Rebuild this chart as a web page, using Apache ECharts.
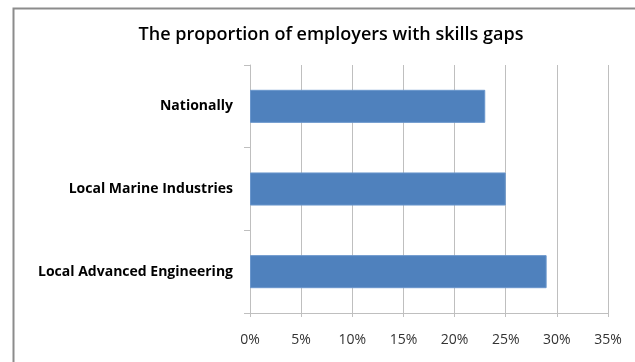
<!DOCTYPE html>
<html><head><meta charset="utf-8">
<script src="https://cdn.jsdelivr.net/npm/echarts@6/dist/echarts.min.js"></script>
<style>html,body{margin:0;padding:0;background:#fff}#c{width:635px;height:362px}</style>
</head><body><div id="c"></div>
<script>
const categories = ["Local Advanced Engineering", "Local Marine Industries", "Nationally"];
const values = [29, 25, 23];
const xTicks = [0, 5, 10, 15, 20, 25, 30, 35];
const titleText = "The proportion of employers with skills gaps";

const chart = echarts.init(document.getElementById('c'));
chart.setOption({
  animation: false,
  backgroundColor: '#fff',
  graphic: [{
    type: 'rect', left: 11, top: 6, shape: {width: 700, height: 500},
    style: {fill: 'none', stroke: '#8c8c8c', lineWidth: 2}, silent: true
  }],
  title: {
    text: titleText, left: 326, top: 21, textAlign: 'center',
    textStyle: {fontFamily: 'Open Sans', fontSize: 18, fontWeight: 600, color: '#000'}
  },
  grid: {left: 250, right: 27, top: 65, bottom: 49, containLabel: false},
  xAxis: {
    type: 'value', min: xTicks[0], max: xTicks[xTicks.length - 1], interval: 5,
    axisLine: {show: true, lineStyle: {color: '#bfbfbf', width: 1}},
    axisTick: {show: true, length: 4, lineStyle: {color: '#bfbfbf'}},
    splitLine: {show: true, lineStyle: {color: '#bfbfbf', width: 1}},
    axisLabel: {formatter: '{value}%', margin: 20, fontFamily: 'Open Sans', fontSize: 14, color: '#333'}
  },
  yAxis: {
    type: 'category', data: categories,
    axisLine: {show: true, lineStyle: {color: '#bfbfbf', width: 1}},
    axisTick: {show: true, length: 6, lineStyle: {color: '#bfbfbf'}},
    axisLabel: {margin: 17, fontFamily: 'Open Sans', fontSize: 14, fontWeight: 'bold', color: '#000'}
  },
  series: [{
    type: 'bar', data: values, barCategoryGap: '60%',
    itemStyle: {color: '#4f81bd', borderColor: '#6a96cc', borderWidth: 1}
  }]
});
</script></body></html>
